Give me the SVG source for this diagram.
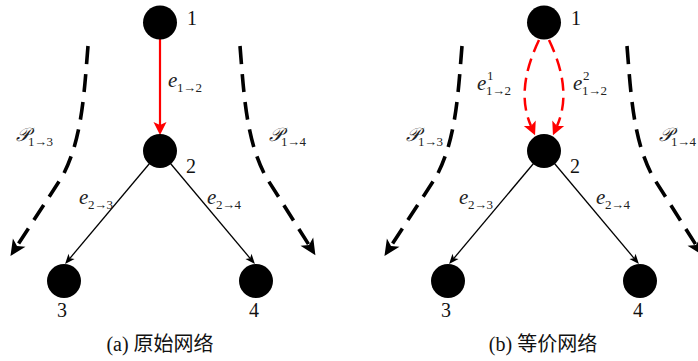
<svg xmlns="http://www.w3.org/2000/svg" width="698" height="361" viewBox="0 0 698 361">
<style>
.node{fill:#000}
.num{font-family:"Liberation Serif",serif;font-size:20px;fill:#111}
.lab{font-family:"Liberation Serif",serif;font-size:21px;font-style:italic;fill:#222}
.sub{font-family:"Liberation Serif",serif;font-size:13px;font-style:normal;fill:#222;letter-spacing:-0.5px}
.cal{font-family:"DejaVu Serif","Liberation Serif",serif;font-size:19px;font-style:italic;fill:#222}
.cap{font-family:"Liberation Serif","Noto Sans CJK SC",serif;font-size:20px;fill:#111}
.thick{fill:none;stroke:#000;stroke-width:3.6;stroke-dasharray:18 10}
.red{fill:none;stroke:#f00;stroke-width:2.2}
.reddash{fill:none;stroke:#f00;stroke-width:2.5;stroke-dasharray:13 7}
.thin{fill:none;stroke:#000;stroke-width:1.3}
</style>
<defs>
<marker id="arrRed" markerUnits="userSpaceOnUse" markerWidth="14" markerHeight="13" refX="3" refY="6.5" orient="auto" overflow="visible">
<path d="M0,0 L13,6.5 L0,13 L3,6.5 z" fill="#f00"/>
</marker>
<marker id="arrThick" markerUnits="userSpaceOnUse" markerWidth="17" markerHeight="15" refX="4" refY="7.5" orient="auto" overflow="visible">
<path d="M0,0 L16,7.5 L0,15 L4,7.5 z" fill="#000"/>
</marker>
<marker id="arrThin" markerUnits="userSpaceOnUse" markerWidth="11" markerHeight="9" refX="2.5" refY="4" orient="auto" overflow="visible">
<path d="M0,0 L10,4 L0,8 L2.5,4 z" fill="#000"/>
</marker>
</defs>

<g id="connectors">
<path class="red" d="M160 39 L160 125" marker-end="url(#arrRed)"/>
<path class="thin" d="M160 151 L69.9 258.3" marker-end="url(#arrThin)"/>
<path class="thin" d="M160 151 L250.1 258.3" marker-end="url(#arrThin)"/>
<path class="thick" d="M88 46 C84 95 82 140 62 177 L17 246" marker-end="url(#arrThick)"/>
<path class="thick" d="M240 46 C244 95 246 140 266 177 L309 245" marker-end="url(#arrThick)"/>
<path class="reddash" d="M539 40 Q515 90 531 126" marker-end="url(#arrRed)"/>
<path class="reddash" d="M549 40 Q573 90 557 126" marker-end="url(#arrRed)"/>
<path class="thin" d="M544 151 L453.9 258.3" marker-end="url(#arrThin)"/>
<path class="thin" d="M544 151 L634.1 258.3" marker-end="url(#arrThin)"/>
<path class="thick" d="M462 46 C458 95 456 140 436 177 L391 246" marker-end="url(#arrThick)"/>
<path class="thick" d="M627 46 C631 95 633 140 653 177 L696 245" marker-end="url(#arrThick)"/>
</g>

<g id="a-node1"><circle class="node" cx="160" cy="22.5" r="17"/><text class="num" x="187" y="25">1</text></g>
<g id="a-node2"><circle class="node" cx="160" cy="151" r="17"/><text class="num" x="186" y="173">2</text></g>
<g id="a-node3"><circle class="node" cx="64" cy="281" r="17"/><text class="num" x="57" y="317">3</text></g>
<g id="a-node4"><circle class="node" cx="256" cy="281" r="17"/><text class="num" x="249" y="317">4</text></g>

<g id="b-node1"><circle class="node" cx="544" cy="22.5" r="17"/><text class="num" x="571" y="25">1</text></g>
<g id="b-node2"><circle class="node" cx="544" cy="151" r="17"/><text class="num" x="570" y="173">2</text></g>
<g id="b-node3"><circle class="node" cx="448" cy="281" r="17"/><text class="num" x="441" y="317">3</text></g>
<g id="b-node4"><circle class="node" cx="640" cy="281" r="17"/><text class="num" x="633" y="317">4</text></g>

<g id="labels">
<text class="lab" x="168" y="87">e<tspan class="sub" x="177" y="92">1→2</tspan></text>
<text class="lab" x="79" y="204">e<tspan class="sub" x="88" y="209">2→3</tspan></text>
<text class="lab" x="207" y="204">e<tspan class="sub" x="216" y="209">2→4</tspan></text>
<text class="cal" x="16" y="141">𝒫<tspan class="sub" x="28" y="146">1→3</tspan></text>
<text class="cal" x="269" y="141">𝒫<tspan class="sub" x="281" y="146">1→4</tspan></text>

<text class="lab" x="477" y="90">e<tspan class="sub" x="487" y="80">1</tspan><tspan class="sub" x="486" y="95">1→2</tspan></text>
<text class="lab" x="573" y="90">e<tspan class="sub" x="583" y="80">2</tspan><tspan class="sub" x="582" y="95">1→2</tspan></text>
<text class="lab" x="459" y="204">e<tspan class="sub" x="468" y="209">2→3</tspan></text>
<text class="lab" x="596" y="204">e<tspan class="sub" x="605" y="209">2→4</tspan></text>
<text class="cal" x="406" y="141">𝒫<tspan class="sub" x="418" y="146">1→3</tspan></text>
<text class="cal" x="659" y="141">𝒫<tspan class="sub" x="671" y="146">1→4</tspan></text>

<text class="cap" x="160" y="351" text-anchor="middle">(a) 原始网络</text>
<text class="cap" x="543" y="351" text-anchor="middle">(b) 等价网络</text>
</g>
</svg>
